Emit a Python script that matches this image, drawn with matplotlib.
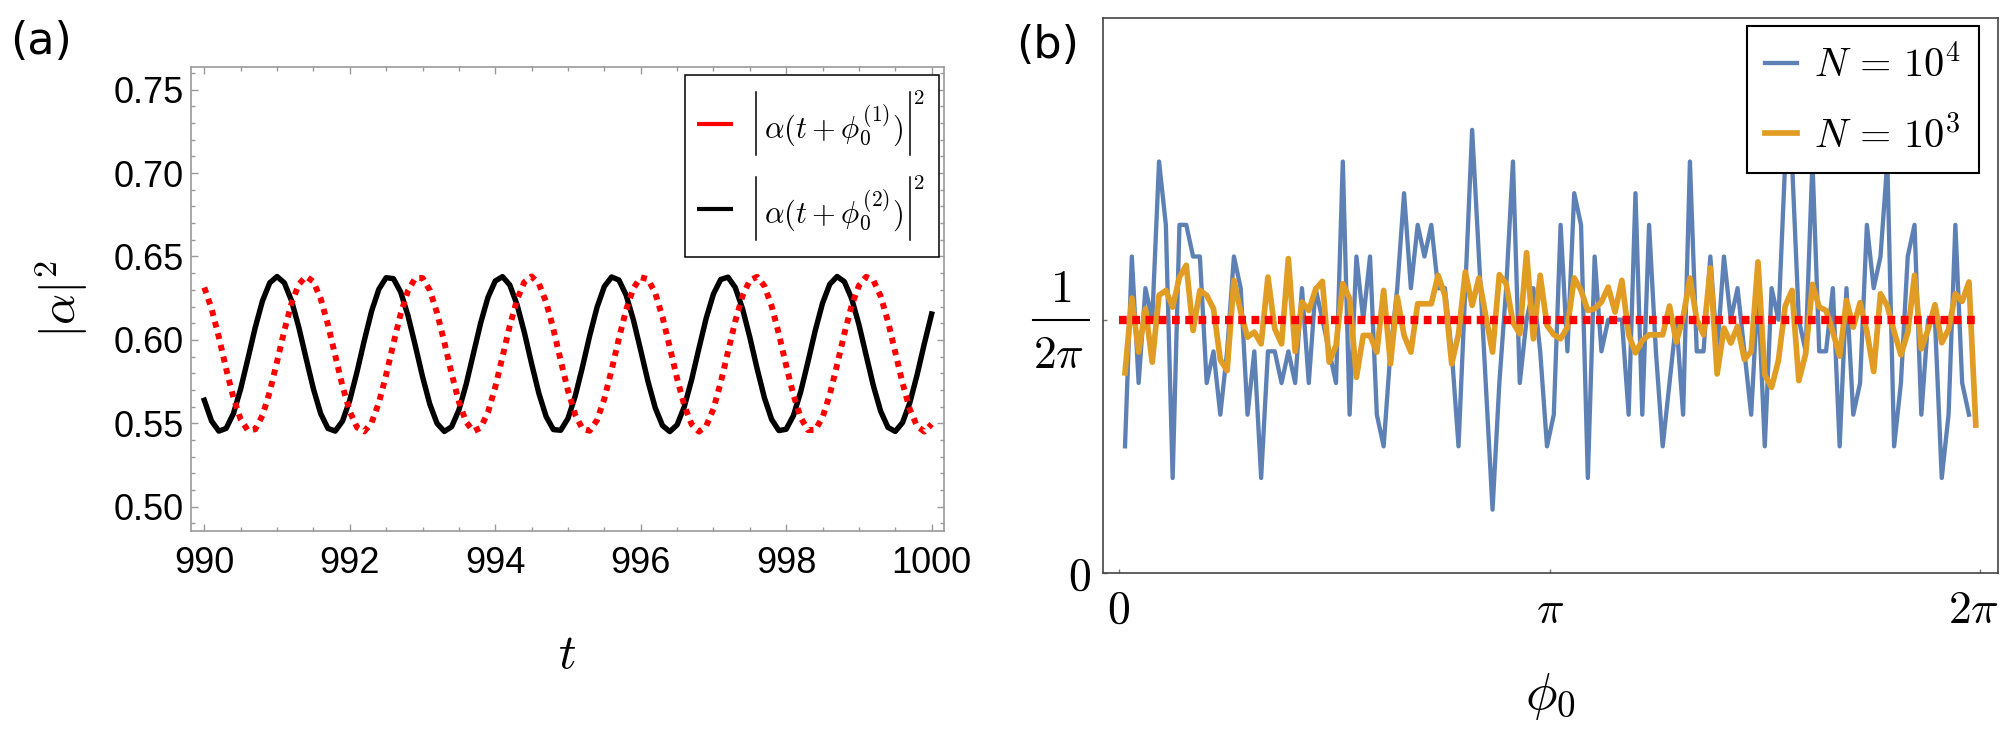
import numpy as np
import matplotlib
matplotlib.use("Agg")
import matplotlib.pyplot as plt
from matplotlib.lines import Line2D
from matplotlib.patches import Rectangle
from matplotlib.transforms import ScaledTranslation
from matplotlib.ticker import MultipleLocator, FormatStrFormatter

plt.rcParams['mathtext.fontset'] = 'cm'
plt.rcParams['font.family'] = ['Liberation Sans', 'DejaVu Sans']

# ---- panel (a): |alpha|^2, t = 990 ... 1000 (step 0.1)
t = np.linspace(990, 1000, 101)
alpha_sq_1 = [  # red dotted, phi_0^(1)
    0.6314, 0.6187, 0.6016, 0.5827, 0.5654, 0.5523, 0.5456, 0.5464, 0.5547, 0.5689,
    0.5869, 0.6056, 0.6220, 0.6334, 0.6380, 0.6349, 0.6247, 0.6091, 0.5906, 0.5723,
    0.5571, 0.5475, 0.5451, 0.5504, 0.5623, 0.5790, 0.5978, 0.6156, 0.6294, 0.6370,
    0.6371, 0.6298, 0.6162, 0.5986, 0.5798, 0.5629, 0.5507, 0.5452, 0.5473, 0.5566,
    0.5716, 0.5899, 0.6084, 0.6242, 0.6346, 0.6380, 0.6337, 0.6226, 0.6063, 0.5876,
    0.5696, 0.5551, 0.5466, 0.5455, 0.5519, 0.5647, 0.5820, 0.6008, 0.6181, 0.6310,
    0.6375, 0.6364, 0.6280, 0.6136, 0.5956, 0.5769, 0.5606, 0.5494, 0.5450, 0.5483,
    0.5586, 0.5744, 0.5929, 0.6112, 0.6263, 0.6357, 0.6378, 0.6324, 0.6203, 0.6034,
    0.5846, 0.5670, 0.5533, 0.5459, 0.5460, 0.5535, 0.5673, 0.5850, 0.6037, 0.6205,
    0.6325, 0.6378, 0.6356, 0.6261, 0.6109, 0.5926, 0.5741, 0.5584, 0.5482, 0.5450,
    0.5495]
alpha_sq_2 = [  # black solid, phi_0^(2)
    0.5638, 0.5513, 0.5453, 0.5469, 0.5558, 0.5706, 0.5888, 0.6074, 0.6234, 0.6342,
    0.6380, 0.6342, 0.6234, 0.6074, 0.5888, 0.5706, 0.5558, 0.5469, 0.5453, 0.5513,
    0.5638, 0.5809, 0.5997, 0.6172, 0.6304, 0.6373, 0.6367, 0.6287, 0.6146, 0.5967,
    0.5780, 0.5615, 0.5499, 0.5451, 0.5479, 0.5579, 0.5733, 0.5918, 0.6102, 0.6255,
    0.6353, 0.6379, 0.6329, 0.6211, 0.6045, 0.5857, 0.5679, 0.5540, 0.5462, 0.5458,
    0.5529, 0.5663, 0.5839, 0.6027, 0.6196, 0.6320, 0.6377, 0.6359, 0.6268, 0.6119,
    0.5937, 0.5751, 0.5592, 0.5486, 0.5450, 0.5490, 0.5600, 0.5761, 0.5948, 0.6129,
    0.6275, 0.6362, 0.6376, 0.6314, 0.6187, 0.6016, 0.5828, 0.5654, 0.5523, 0.5456,
    0.5464, 0.5546, 0.5689, 0.5869, 0.6056, 0.6220, 0.6334, 0.6380, 0.6349, 0.6248,
    0.6092, 0.5907, 0.5723, 0.5571, 0.5475, 0.5451, 0.5504, 0.5623, 0.5790, 0.5978,
    0.6155]
legend_a = [r'$\alpha(t+\phi_0^{(1)})$', r'$\alpha(t+\phi_0^{(2)})$']

# ---- panel (b): distribution of phi_0
phi0 = np.linspace(0.046, 6.249, 126)
density_N1e4 = [
    0.0796, 0.1989, 0.1194, 0.1790, 0.1592, 0.2586, 0.2188, 0.0597, 0.2188, 0.2188,
    0.1989, 0.1989, 0.1194, 0.1393, 0.0995, 0.1393, 0.1989, 0.1790, 0.0995, 0.1393,
    0.0597, 0.1393, 0.1393, 0.1194, 0.1393, 0.1194, 0.1790, 0.1194, 0.1790, 0.1592,
    0.1393, 0.1194, 0.2586, 0.0995, 0.1989, 0.1592, 0.1989, 0.0995, 0.0796, 0.1393,
    0.1790, 0.2387, 0.1790, 0.2188, 0.1989, 0.2188, 0.1790, 0.1790, 0.1393, 0.0796,
    0.1790, 0.2785, 0.1989, 0.1194, 0.0398, 0.1194, 0.1790, 0.2586, 0.1194, 0.1592,
    0.1790, 0.1393, 0.0796, 0.0995, 0.2188, 0.1393, 0.2387, 0.2188, 0.0597, 0.1989,
    0.1393, 0.1592, 0.1592, 0.1592, 0.0995, 0.2387, 0.0995, 0.2188, 0.1393, 0.0796,
    0.1194, 0.1592, 0.0995, 0.2586, 0.1393, 0.1393, 0.1989, 0.1393, 0.1989, 0.1592,
    0.1790, 0.1393, 0.0995, 0.1790, 0.0796, 0.1790, 0.1592, 0.2586, 0.2586, 0.1592,
    0.1393, 0.2586, 0.1393, 0.1393, 0.1790, 0.0796, 0.1790, 0.0995, 0.1194, 0.2188,
    0.1790, 0.1989, 0.2586, 0.0796, 0.1194, 0.1989, 0.2188, 0.0995, 0.1592, 0.1592,
    0.0597, 0.0995, 0.2188, 0.1194, 0.0995]
density_N1e3 = [
    0.1258, 0.1728, 0.1388, 0.1661, 0.1325, 0.1745, 0.1776, 0.1671, 0.1860, 0.1934,
    0.1524, 0.1776, 0.1745, 0.1661, 0.1340, 0.1272, 0.1839, 0.1640, 0.1482, 0.1514,
    0.1440, 0.1860, 0.1535, 0.1440, 0.1976, 0.1392, 0.1703, 0.1650, 0.1783, 0.1833,
    0.1325, 0.1430, 0.1818, 0.1724, 0.1230, 0.1493, 0.1493, 0.1388, 0.1776, 0.1314,
    0.1734, 0.1493, 0.1388, 0.1692, 0.1692, 0.1692, 0.1871, 0.1745, 0.1314, 0.1503,
    0.1892, 0.1682, 0.1854, 0.1615, 0.1388, 0.1875, 0.1818, 0.1573, 0.1503, 0.2013,
    0.1472, 0.1871, 0.1556, 0.1497, 0.1472, 0.1545, 0.1854, 0.1776, 0.1650, 0.1661,
    0.1703, 0.1797, 0.1640, 0.1839, 0.1497, 0.1384, 0.1461, 0.1497, 0.1497, 0.1497,
    0.1678, 0.1451, 0.1608, 0.1854, 0.1594, 0.1497, 0.1917, 0.1251, 0.1539, 0.1445,
    0.1550, 0.1342, 0.1392, 0.1955, 0.1245, 0.1167, 0.1335, 0.1678, 0.1776, 0.1209,
    0.1377, 0.1814, 0.1671, 0.1650, 0.1514, 0.1363, 0.1713, 0.1545, 0.1699, 0.1518,
    0.1266, 0.1755, 0.1678, 0.1518, 0.1371, 0.1510, 0.1871, 0.1409, 0.1531, 0.1686,
    0.1447, 0.1531, 0.1755, 0.1707, 0.1829, 0.0930]
uniform_level = 1 / (2 * np.pi)

RED = '#ff0000'
BLUE = '#5e81b5'
ORANGE = '#e19c24'

W, H = 2001, 753
fig = plt.figure(figsize=(W / 100, H / 100), dpi=100)


def fx(x):
    return x / W


def fy(y):
    # pixel row counted from the top -> figure fraction
    return 1 - y / H


ax_a = fig.add_axes([fx(191), fy(531), (944 - 191) / W, (531 - 67) / H])
ax_b = fig.add_axes([fx(1103), fy(573), (1998 - 1103) / W, (573 - 18) / H])

# ---------------- panel (a)
ax_a.plot(t, alpha_sq_2, color='black', lw=3.9, zorder=2)
ax_a.plot(t, alpha_sq_1, color=RED, lw=4.3, linestyle=(0, (1.0, 1.0)),
          dash_capstyle='butt', zorder=3)
ax_a.set_xlim(989.817, 1000.17)
ax_a.set_ylim(0.4854, 0.7636)
ax_a.xaxis.set_major_locator(MultipleLocator(2))
ax_a.xaxis.set_minor_locator(MultipleLocator(0.5))
ax_a.yaxis.set_major_locator(MultipleLocator(0.05))
ax_a.yaxis.set_minor_locator(MultipleLocator(0.01))
ax_a.yaxis.set_major_formatter(FormatStrFormatter('%.2f'))
ax_a.tick_params(which='both', direction='in', top=True, right=True,
                 color='#999999', labelcolor='black', width=1)
ax_a.tick_params(which='major', length=5, labelsize=26)
ax_a.tick_params(which='minor', length=2.6)
ax_a.tick_params(axis='x', pad=11)
ax_a.tick_params(axis='y', pad=5)
for s in ax_a.spines.values():
    s.set_color('#999999')
    s.set_linewidth(1.2)

ax_a.set_xlabel(r'$t$', fontsize=35)
ax_a.xaxis.set_label_coords(0.5, -0.22)
ax_a.set_ylabel(r'$|\alpha|^2$', fontsize=35)
ax_a.yaxis.set_label_coords(-0.134, 0.5)

# legend of (a), drawn by hand so the |...|^2 bars can span the whole entry
box_l, box_t, box_r, box_b = 684.6, 75, 939, 257
row_y = [123.5, 208.5]
leg_texts = []
for yc, col, lab in zip(row_y, [RED, 'black'], legend_a):
    fig.add_artist(Line2D([fx(697), fx(733)], [fy(yc), fy(yc)], color=col,
                          lw=3, solid_capstyle='butt', zorder=6))
    leg_texts.append(fig.text(fx(764), fy(yc + 2), lab, fontsize=22,
                              ha='left', va='center', zorder=7))
fig.canvas.draw()
renderer = fig.canvas.get_renderer()
right_edge = box_r
for yc, txt in zip(row_y, leg_texts):
    bb = txt.get_window_extent(renderer)
    x_right_bar = bb.x1 + 7
    for xb in (756, x_right_bar):
        fig.add_artist(Line2D([fx(xb), fx(xb)], [fy(yc - 31.5), fy(yc + 31.5)],
                              color='black', lw=1.1, zorder=7))
    fig.text(fx(x_right_bar + 3), fy(yc - 25), r'$2$', fontsize=15,
             ha='left', va='center', zorder=7)
    right_edge = max(right_edge, x_right_bar + 17)
fig.add_artist(Rectangle((fx(box_l), fy(box_b)), (right_edge - box_l) / W,
                         (box_b - box_t) / H, transform=fig.transFigure,
                         facecolor='white', edgecolor='black', lw=1.1,
                         zorder=5))

# ---------------- panel (b)
ax_b.plot(phi0[:len(density_N1e4)], density_N1e4, color=BLUE, lw=3.1,
          zorder=2, label=r'$N\,=\,10^4$')
ax_b.plot(phi0, density_N1e3, color=ORANGE, lw=4.1, zorder=3,
          label=r'$N\,=\,10^3$')
ax_b.plot([0, 2 * np.pi], [uniform_level, uniform_level], color=RED, lw=6,
          linestyle=(0, (0.93, 0.66)), dash_capstyle='butt', zorder=4)
ax_b.set_xlim(-0.1145, 6.411)
ax_b.set_ylim(0, 0.3488)
ax_b.set_xticks([0, np.pi, 2 * np.pi])
ax_b.set_xticklabels([r'$0$', r'$\pi$', r'$2\pi$'])
ax_b.set_yticks([0, uniform_level])
ax_b.set_yticklabels([r'$0$', ''])
ax_b.tick_params(direction='in', length=3, width=1, color='#777777',
                 labelsize=33)
ax_b.tick_params(axis='x', pad=36)
ax_b.tick_params(axis='y', pad=9)
for s in ax_b.spines.values():
    s.set_color('#444444')
    s.set_linewidth(1.2)
xlabs = ax_b.get_xticklabels()
for lab in xlabs:
    lab.set_verticalalignment('baseline')
xlabs[-1].set_transform(xlabs[-1].get_transform()
                        + ScaledTranslation(-0.07, 0, fig.dpi_scale_trans))

# the 1/(2 pi) tick label, set as a display-style fraction
fig.text(fx(1061), fy(289.5), r'$1$', fontsize=33, ha='center', va='center')
fig.add_artist(Line2D([fx(1033), fx(1088.6)], [fy(320), fy(320)],
                      color='black', lw=1.5))
fig.text(fx(1059), fy(356), r'$2\pi$', fontsize=33, ha='center', va='center')

ax_b.set_xlabel(r'$\phi_0$', fontsize=38)
ax_b.xaxis.set_label_coords(0.5, -0.177)

leg_b = ax_b.legend(loc='upper right', bbox_to_anchor=(0.9783, 0.9847),
                    borderaxespad=0, fontsize=29, handlelength=0.8,
                    handletextpad=0.4, labelspacing=0.75, borderpad=0.45,
                    fancybox=False, framealpha=1, edgecolor='black')
leg_b.get_frame().set_linewidth(1.5)

fig.text(fx(10), fy(42), '(a)', fontsize=32, family='DejaVu Sans',
         ha='left', va='center')
fig.text(fx(1016), fy(46), '(b)', fontsize=32, family='DejaVu Sans',
         ha='left', va='center')

fig.savefig('out.png', dpi=100)
